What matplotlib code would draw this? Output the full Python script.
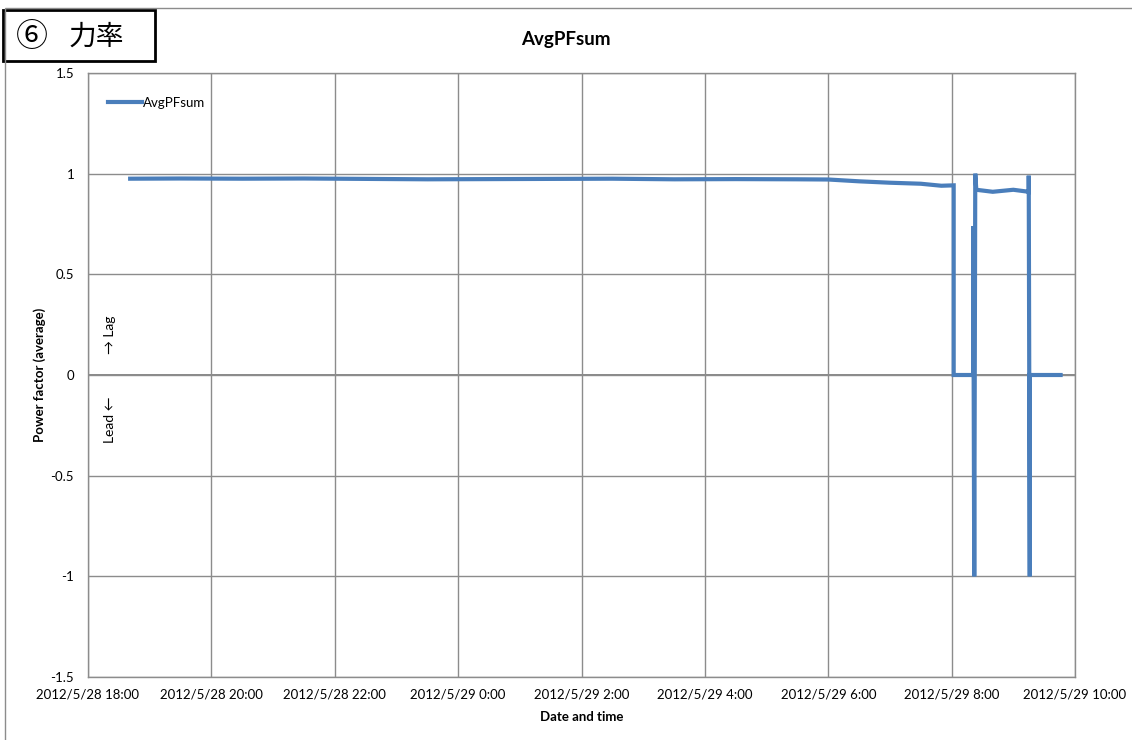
import pandas as pd
import matplotlib
matplotlib.use("Agg")
import matplotlib.pyplot as plt
import matplotlib.dates as mdates
from matplotlib.patches import Rectangle

plt.rcParams['font.family'] = ['Lato', 'DejaVu Sans']
plt.rcParams['axes.unicode_minus'] = False

# AvgPFsum readings
times = [
    "2012-05-28 18:41", "2012-05-28 19:30", "2012-05-28 20:30", "2012-05-28 21:30",
    "2012-05-28 22:30", "2012-05-28 23:30", "2012-05-29 00:30", "2012-05-29 01:30",
    "2012-05-29 02:30", "2012-05-29 03:30", "2012-05-29 04:30", "2012-05-29 05:30",
    "2012-05-29 06:00", "2012-05-29 06:30", "2012-05-29 07:00", "2012-05-29 07:30",
    "2012-05-29 07:50", "2012-05-29 08:02", "2012-05-29 08:02", "2012-05-29 08:21",
    "2012-05-29 08:21", "2012-05-29 08:22", "2012-05-29 08:22", "2012-05-29 08:23",
    "2012-05-29 08:24", "2012-05-29 08:40", "2012-05-29 09:00", "2012-05-29 09:15",
    "2012-05-29 09:15", "2012-05-29 09:16", "2012-05-29 09:16", "2012-05-29 09:46",
]
avg_pf = [
    0.975, 0.976, 0.975, 0.976,
    0.974, 0.972, 0.973, 0.974,
    0.975, 0.972, 0.973, 0.972,
    0.971, 0.962, 0.955, 0.950,
    0.940, 0.942, 0.0, 0.0,
    0.74, -1.0, -1.0, 1.0,
    0.92, 0.91, 0.92, 0.91,
    0.99, -1.0, 0.0, 0.0,
]

x_start = "2012-05-28 18:00"
x_end = "2012-05-29 10:00"
y_ticks = [-1.5, -1, -0.5, 0, 0.5, 1, 1.5]

t = pd.to_datetime(times)

fig = plt.figure(figsize=(11.32, 7.4), dpi=100)

# outer chart frame
fig.patches.append(Rectangle((5 / 1132, -0.1), 1.2, 1 - 8 / 740 + 0.1,
                             transform=fig.transFigure, fill=False,
                             edgecolor="#8c8c8c", linewidth=1.0))

ax = fig.add_axes([88 / 1132, 1 - 677 / 740, (1075 - 88) / 1132, (677 - 73) / 740])

ax.plot(t, avg_pf, color="#4a7ebb", linewidth=3.0, label="AvgPFsum",
        solid_joinstyle="miter")

ax.set_xlim(pd.Timestamp(x_start), pd.Timestamp(x_end))
ax.set_ylim(-1.5, 1.5)
ax.set_yticks(y_ticks)
ax.yaxis.set_major_formatter(plt.FuncFormatter(lambda v, p: f"{v:g}"))

ax.xaxis.set_major_locator(mdates.HourLocator(byhour=range(0, 24, 2)))


def fmt_date(v, pos):
    d = mdates.num2date(v)
    return f"{d.year}/{d.month}/{d.day} {d.hour}:{d.minute:02d}"


ax.xaxis.set_major_formatter(plt.FuncFormatter(fmt_date))

ax.grid(True, color="#8c8c8c", linewidth=1.0)
ax.axhline(0, color="#7f7f7f", linewidth=1.3, zorder=1.5)
for s in ax.spines.values():
    s.set_color("#8c8c8c")
    s.set_linewidth(1.0)
ax.tick_params(length=0, labelsize=9.5, pad=8)
ax.tick_params(axis="y", pad=10)

ax.set_xlabel("Date and time", fontweight="bold", fontsize=9.5, labelpad=8)
ax.set_ylabel("Power factor (average)", fontweight="bold", fontsize=9.5)
ax.yaxis.set_label_coords(-0.043, 0.5)

ax.text(0.022, 0.5 + 0.035, "→ Lag", transform=ax.transAxes, rotation=90,
        ha="center", va="bottom", fontsize=10,
        family=['Lato', 'Noto Sans CJK JP'])
ax.text(0.022, 0.5 - 0.035, "Lead ←", transform=ax.transAxes, rotation=90,
        ha="center", va="top", fontsize=10,
        family=['Lato', 'Noto Sans CJK JP'])

ax.legend(loc="upper left", frameon=False, fontsize=9.5, handlelength=2.6,
          handletextpad=0.05, bbox_to_anchor=(0.008, 0.98))

fig.suptitle("AvgPFsum", x=0.5, y=1 - 40 / 740, va="center",
             fontsize=13.5, fontweight="bold")

# boxed section label
fig.patches.append(Rectangle((3 / 1132, 1 - 61 / 740), 152 / 1132, 51 / 740,
                             transform=fig.transFigure, facecolor="white",
                             edgecolor="black", linewidth=2.0, zorder=0.5))
fig.text(16 / 1132, 1 - 37 / 740, "⑥", ha="left", va="center", fontsize=23,
         family=['Noto Sans CJK JP', 'DejaVu Sans'])
fig.text(69 / 1132, 1 - 37 / 740, "力率", ha="left", va="center", fontsize=20,
         family=['Noto Sans CJK JP', 'DejaVu Sans'])

fig.savefig("out.png", dpi=100)
